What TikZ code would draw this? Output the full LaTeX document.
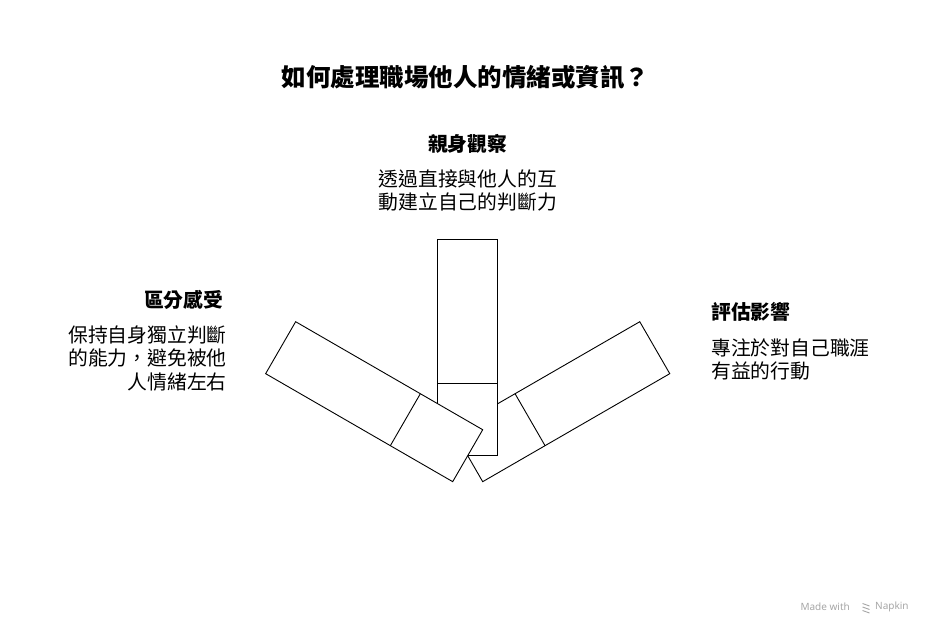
\documentclass[tikz,border=0pt]{standalone}
\usepackage{fontspec}
\newfontfamily\cjk{Noto Sans CJK TC}
\newfontfamily\wmfont{Noto Sans}
\begin{document}
\begin{tikzpicture}[x=1pt,y=1pt,
  bar/.style={draw=black,line width=0.9pt,fill=white},
  sep/.style={draw=black,line width=0.9pt},
  titletext/.style={font={\cjk\bfseries\fontsize{24.5}{28}\selectfont},inner sep=0pt},
  headtext/.style={font={\cjk\bfseries\fontsize{19.8}{23.5}\selectfont},inner sep=0pt},
  bodytext/.style={font={\cjk\fontsize{19.8}{23.5}\selectfont},inner sep=0pt},
  marktext/.style={font={\wmfont\fontsize{10}{12}\selectfont},text=black!35,inner sep=0pt}]
\useasboundingbox (0,0) rectangle (936,636);
\coordinate (pivot) at (467.7,180.3);
% right bar (bottom layer)
\begin{scope}[shift={(pivot)},rotate=-60]
  \draw[bar] (-30,0) rectangle (30,216);
  \draw[sep] (-30,72) -- (30,72);
\end{scope}
% middle bar
\begin{scope}[shift={(pivot)}]
  \draw[bar] (-30,0) rectangle (30,216);
  \draw[sep] (-30,72) -- (30,72);
\end{scope}
% left bar (top layer)
\begin{scope}[shift={(pivot)},rotate=60]
  \draw[bar] (-30,0) rectangle (30,216);
  \draw[sep] (-30,72) -- (30,72);
\end{scope}
% texts
\node[titletext] (title) at (465.5,559) {如何處理職場他人的情緒或資訊？};
\node[headtext] (tophead) at (467.7,492) {親身觀察};
\node[bodytext,align=center] (topbody) at (467.7,445.3) {透過直接與他人的互\\動建立自己的判斷力};
\node[headtext,anchor=east] (lefthead) at (223.5,336) {區分感受};
\node[bodytext,align=right,anchor=east] (leftbody) at (226.8,277.5) {保持自身獨立判斷\\的能力，避免被他\\人情緒左右};
\node[headtext,anchor=west] (righthead) at (711,324.3) {評估影響};
\node[bodytext,align=left,anchor=west] (rightbody) at (711,276.3) {專注於對自己職涯\\有益的行動};
\node[marktext,anchor=east] (mark1) at (850,29) {Made with};
\node[marktext,anchor=west] (mark2) at (875,29) {Napkin};
\begin{scope}[black!35,line width=0.9pt]
  \draw (862.5,32.5) -- (869.5,30);
  \draw (862.5,29) -- (869.5,26.5);
  \draw (862.5,25.5) -- (869.5,23);
\end{scope}
\end{tikzpicture}
\end{document}
